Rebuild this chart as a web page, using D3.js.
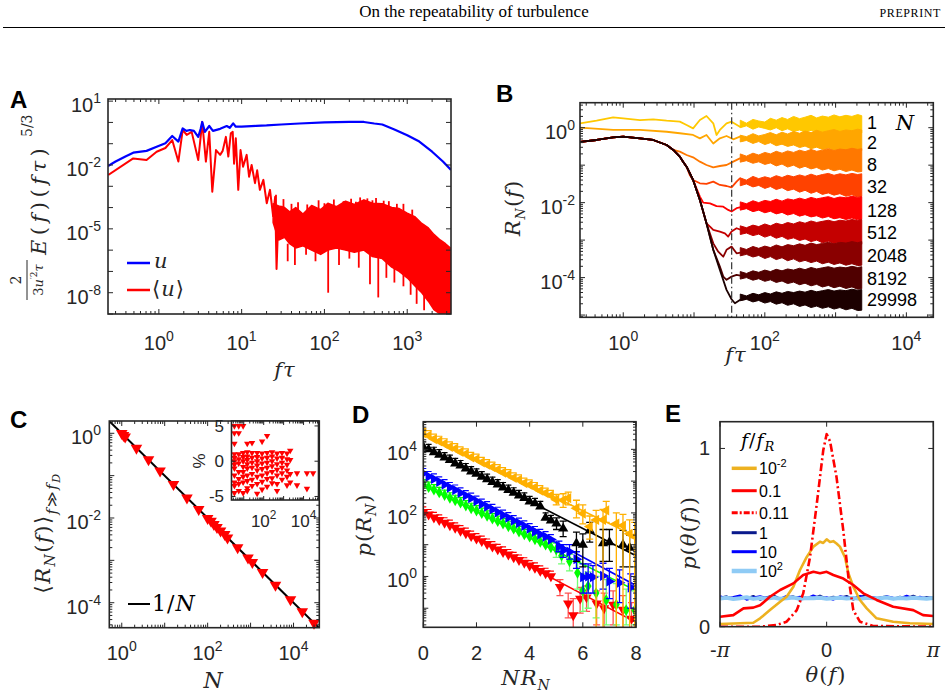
<!DOCTYPE html>
<html>
<head>
<meta charset="utf-8">
<script src="https://cdn.jsdelivr.net/npm/d3@7"></script>
<style>
  body { margin: 0; background: #fff; }
  svg { display: block; }
</style>
</head>
<body>
<div id="fig"></div>
<script>
// ---------------- data ----------------

// A: compensated spectrum of u and of the ensemble mean <u>
const aFreqU = [0.243,0.3,0.4,0.49,0.71,0.94,1.2,1.45,1.72,1.94,2.15,2.37,2.65,2.99,3.2,3.34,3.6,4.06,4.5,5.5,6.6,7.2,7.9,8.5,10,15,20,30,50,100,200,300,400,500,700,1000,1400,2000,2700,3380];
const aSpecU = [8.9e-3,1.45e-2,2.6e-2,3.8e-2,4.6e-2,7.2e-2,0.105,0.23,0.126,0.52,0.4,0.44,0.4,0.21,0.5,1.05,0.36,0.68,0.4,0.5,0.68,0.56,0.9,0.63,0.63,0.69,0.72,0.8,0.89,1.0,1.05,1.05,0.89,0.8,0.47,0.25,0.126,0.042,0.0145,5.9e-3];
const aFreqM = [0.245,0.49,0.71,0.94,1.2,1.45,1.72,1.94,2.17,2.49,2.99,3.34,3.7,4.06,4.42,4.9,5.5,5.9,6.45,6.9,7.4,7.8,8.1,8.5,9.1,9.7,10.4,11.5,12.3,13.2,14.5,15.4,16.6,18.3,20.1,22,24,25.4,26.4,27.9,30.4,33.4];
const aSpecM = [3.4e-3,0.0204,0.017,0.042,0.063,0.148,0.0145,0.44,0.26,0.36,0.017,1.05,0.0145,0.36,5.6e-4,0.05,0.03,0.046,0.21,0.025,0.31,0.36,0.0115,0.18,6.8e-4,0.05,8.3e-3,0.03,2.8e-3,0.01,1.4e-3,5.6e-3,6.8e-4,2e-3,1.6e-4,6.8e-4,4e-5,3.2e-4,1.3e-7,5.5e-5,1.1e-4,1.3e-5];
// noisy high-frequency part of <u>: envelope and isolated spikes
const aBandF  = [24,28,33,38,45,55,70,90,110,140,180,230,300,380,500,650,800,1000,1250,1500,1800,2100,2500,2900,3380];
const aBandHi = [1.5e-4,1.2e-4,1e-4,6.3e-5,1e-4,5e-5,1.26e-4,8e-5,1.6e-4,1.1e-4,2e-4,1.4e-4,2.3e-4,1.6e-4,1.5e-4,1e-4,9e-5,5.5e-5,3.6e-5,1.8e-5,1.1e-5,5.5e-6,3e-6,2e-6,1.2e-6];
const aBandLo = [2e-5,3e-6,4e-6,2e-6,1.26e-6,1.6e-6,1e-6,6.3e-7,1e-6,1.26e-6,1e-6,8e-7,1e-6,5e-7,4e-7,1.6e-7,1e-7,5e-8,2e-8,1e-8,4e-9,1.6e-9,1e-9,1e-9,1e-9];
const aDipF = [36,44,60,78,111,150,200,260,355,447,560,700,900,1100,1300,1600];
const aDipV = [3e-7,2e-7,6e-7,3e-7,1e-8,2e-7,4e-7,1.5e-7,2.5e-8,6e-9,5e-8,3e-8,2e-8,8e-9,3e-9,1.5e-9];
const aPeakF = [26,32,40,48,62,85,100,130,170,210,240,270,330,380,420,520,600,750,900,1150];
const aPeakV = [4e-4,2.5e-4,1.5e-4,1.8e-4,1.4e-4,2.2e-4,1.6e-4,2.4e-4,2e-4,2.6e-4,1.9e-4,3e-4,2.7e-4,2.2e-4,2.8e-4,2.1e-4,2e-4,1.5e-4,1.5e-4,8e-5];

// B: R_N(f) for several ensemble sizes N
const bLabels = ["1","2","8","32","128","512","2048","8192","29998"];
const bN1F = [0.245,0.42,0.72,1,1.72,2.65,4.1,6.3,7.85,9.7,12.1,15,18.7,20.8,23.2,28.8,33.9,44.5,55];
const bN1V = [1.31,1.54,1.89,1.77,1.6,1.67,1.54,1.45,1.18,0.96,1.6,2.05,1.31,0.64,0.87,1.31,1.45,1.06,1.2];
const bN2F = [0.245,0.72,1.72,4.1,6.3,9.7,12.1,15,18.7,23.2,28.8,35.8,44.5,55];
const bN2V = [1.0,0.87,0.87,0.78,0.71,0.64,0.52,0.64,0.38,0.52,0.6,0.49,0.575,0.5];
// common low-frequency part shared by N >= 8
const bStemF = [0.245,0.42,0.72,1,1.72,2.65,4.1,5.1,6.3,7.0,7.85,9.7,12.1,15,18.7,23.2,28.8];
const bStemV = [0.42,0.47,0.55,0.575,0.52,0.47,0.345,0.254,0.169,0.124,0.091,0.0402,0.0118,0.0028,5.5e-4,1.6e-4,4.7e-5];
const bStemLen = [8,11,12,14,14,15,16];
const bTailF = [
  [6.3,7.85,9.7,12.1,15,18.7,23.2,28.8,35.8,44.5,55],
  [8.7,9.7,12.1,15,18.7,23.2,28.8,33.9,39.9,44.5,55],
  [12.1,13.5,16.8,20.8,25.9,30.4,33.9,39.9,49.4],
  [16.8,18.7,23.2,27.3,30.4,33.9,39.9,49.4],
  [18.7,22,25.9,28.8,33.9,39.9,49.4],
  [23.2,25.9,28.8,33.9,39.9,49.4],
  [28.8,33.9,37.8,44.5,55]
];
const bTailV = [
  [0.229,0.187,0.162,0.124,0.101,0.0875,0.095,0.101,0.124,0.152,0.14],
  [0.0547,0.0402,0.0328,0.0315,0.0363,0.0296,0.0278,0.0256,0.0363,0.0446,0.035],
  [0.0145,0.01,0.0096,0.0081,0.0078,0.0064,0.0058,0.0071,0.0078],
  [0.0023,0.00187,0.00169,0.00152,0.00124,0.00169,0.00207,0.0018],
  [8.2e-4,4.9e-4,3.6e-4,5.5e-4,6.7e-4,4.45e-4,4.8e-4],
  [1.96e-4,1.06e-4,8.7e-5,1.06e-4,1.18e-4,1.1e-4],
  [4.7e-5,2.64e-5,2.07e-5,2.54e-5,2.7e-5]
];
// noisy high-frequency band of each curve, upper / lower envelope as log10 R_N
const bBandF = [45,55,68,82,100,120,145,175,210,255,310,370,450,540,650,790,950,1150,1400,1700,2050,2340];
const bBandHiLog = [
  [0.2,0.12,0.22,0.18,0.15,0.25,0.2,0.27,0.22,0.3,0.24,0.28,0.33,0.26,0.31,0.28,0.34,0.29,0.33,0.3,0.35,0.32],
  [-0.2,-0.24,-0.16,-0.22,-0.18,-0.13,-0.19,-0.12,-0.17,-0.1,-0.15,-0.09,-0.13,-0.07,-0.12,-0.08,-0.05,-0.1,-0.06,-0.08,-0.04,-0.06],
  [-0.7,-0.76,-0.68,-0.73,-0.66,-0.7,-0.63,-0.68,-0.62,-0.66,-0.6,-0.64,-0.58,-0.63,-0.6,-0.56,-0.61,-0.57,-0.59,-0.55,-0.58,-0.56],
  [-1.34,-1.4,-1.3,-1.36,-1.31,-1.35,-1.28,-1.33,-1.27,-1.31,-1.26,-1.3,-1.24,-1.29,-1.25,-1.22,-1.27,-1.23,-1.26,-1.22,-1.25,-1.23],
  [-1.98,-2.03,-1.95,-2.0,-1.94,-1.97,-1.91,-1.96,-1.9,-1.93,-1.88,-1.92,-1.86,-1.9,-1.87,-1.84,-1.89,-1.85,-1.87,-1.83,-1.86,-1.84],
  [-2.62,-2.67,-2.6,-2.64,-2.57,-2.62,-2.55,-2.59,-2.53,-2.57,-2.51,-2.55,-2.49,-2.53,-2.5,-2.47,-2.51,-2.47,-2.49,-2.45,-2.48,-2.45],
  [-3.2,-3.25,-3.17,-3.22,-3.16,-3.2,-3.13,-3.18,-3.12,-3.15,-3.1,-3.14,-3.08,-3.12,-3.09,-3.06,-3.1,-3.06,-3.08,-3.04,-3.07,-3.04],
  [-3.84,-3.89,-3.82,-3.86,-3.8,-3.84,-3.78,-3.82,-3.77,-3.8,-3.75,-3.79,-3.73,-3.77,-3.74,-3.71,-3.75,-3.72,-3.74,-3.7,-3.73,-3.71],
  [-4.44,-4.49,-4.42,-4.46,-4.4,-4.44,-4.38,-4.42,-4.37,-4.4,-4.36,-4.39,-4.34,-4.38,-4.35,-4.32,-4.36,-4.33,-4.35,-4.31,-4.34,-4.32]
];
const bBandLoLog = [
  [0.0,0.05,-0.04,0.02,-0.02,-0.06,0.0,-0.08,-0.03,-0.1,-0.06,-0.12,-0.07,-0.1,-0.14,-0.09,-0.15,-0.11,-0.16,-0.12,-0.15,-0.14],
  [-0.38,-0.34,-0.42,-0.37,-0.45,-0.4,-0.48,-0.44,-0.5,-0.46,-0.53,-0.49,-0.56,-0.52,-0.58,-0.54,-0.6,-0.57,-0.62,-0.58,-0.63,-0.61],
  [-0.92,-0.88,-0.95,-0.91,-0.98,-0.94,-1.02,-0.97,-1.05,-1.0,-1.08,-1.03,-1.1,-1.06,-1.13,-1.09,-1.15,-1.11,-1.17,-1.13,-1.18,-1.17],
  [-1.55,-1.5,-1.58,-1.54,-1.62,-1.57,-1.65,-1.6,-1.68,-1.64,-1.72,-1.67,-1.75,-1.7,-1.78,-1.74,-1.8,-1.76,-1.83,-1.79,-1.85,-1.83],
  [-2.2,-2.16,-2.24,-2.2,-2.27,-2.23,-2.3,-2.26,-2.33,-2.29,-2.36,-2.32,-2.38,-2.35,-2.41,-2.37,-2.43,-2.4,-2.45,-2.41,-2.46,-2.44],
  [-2.85,-2.81,-2.88,-2.84,-2.92,-2.87,-2.95,-2.9,-2.98,-2.94,-3.01,-2.97,-3.04,-3.0,-3.07,-3.03,-3.09,-3.05,-3.11,-3.07,-3.12,-3.11],
  [-3.42,-3.38,-3.45,-3.41,-3.49,-3.44,-3.52,-3.47,-3.55,-3.5,-3.58,-3.54,-3.6,-3.56,-3.63,-3.59,-3.65,-3.61,-3.67,-3.63,-3.68,-3.67],
  [-4.04,-4.0,-4.07,-4.03,-4.1,-4.06,-4.13,-4.09,-4.16,-4.12,-4.19,-4.15,-4.22,-4.18,-4.25,-4.21,-4.27,-4.23,-4.29,-4.25,-4.31,-4.3],
  [-4.62,-4.58,-4.65,-4.61,-4.68,-4.64,-4.71,-4.67,-4.74,-4.7,-4.77,-4.73,-4.8,-4.76,-4.82,-4.78,-4.84,-4.8,-4.86,-4.82,-4.88,-4.87]
];
const bDissF = 34;

// C: <R_N> vs N, and deviation from 1/N in percent (inset)
const cN = [1,1.1,1.2,2.2,4.2,7.8,16,33,62,100,120,140,165,200,250,290,500,870,1100,1900,3800,8500,16000,29998];
const cR = [1.0,0.9,0.82,0.45,0.24,0.13,0.062,0.03,0.016,0.0098,0.0085,0.0071,0.006,0.005,0.0041,0.0034,0.002,0.00115,9e-4,5.2e-4,2.6e-4,1.18e-4,6.2e-5,3.3e-5];
const cLineN = [0.51, 40000];
const cLineR = [1.95, 2.5e-5];
const insetN = [3.4,5.6,9.3,15,26,47,83,148,263,468,830,1480,2140,4700,14800,29998];
const insetPct = [
  [5,4,2.5,1,0.5,0,-0.5,-1,-2,-3,-3.5,-4.5],
  [5,4,1,0.3,-0.3,-1.5,-2.5,-3.2,-4.2],
  [5,1.2,0.6,0,-0.8,-1.5,-2.2,-3,-4.5],
  [2.5,1.3,0.7,0.2,-0.4,-1,-2,-2.8,-3.8,-4.2],
  [2.6,1.2,0.5,-0.2,-0.9,-1.8,-2.6,-3.5],
  [1.2,0.6,0,-0.6,-1.3,-2.2,-3.2,-4.6],
  [2.8,1.1,0.4,-0.3,-1.1,-2,-2.9,-4],
  [3.6,1.2,0.5,-0.2,-0.9,-1.7,-2.5,-3.6],
  [1.3,0.7,0,-0.7,-1.5,-2.4,-3.1],
  [1.1,0.4,-0.4,-1.2,-2,-3.2,-4.2],
  [1.2,0.5,-0.2,-0.9,-1.7,-2.6],
  [1.1,0.3,-0.5,-1.3,-2.2,-3.4],
  [1.5,0.2,-1.8,-3],
  [-1.7,-3.4],
  [-1.7,-3.9],
  [-1.7]
];

// D: p(R_N) vs N R_N for five frequencies (offset vertically)
const dX = [0,0.2,0.4,0.6,0.8,1,1.2,1.4,1.6,1.8,2,2.2,2.4,2.6,2.8,3,3.2,3.4,3.6,3.8,4,4.2,4.4,4.6,4.8];
const dOrange = [3.2e4,2.7e4,2.1e4,1.8e4,1.5e4,1.2e4,1.05e4,8.3e3,7.2e3,5.6e3,4.9e3,3.9e3,3.3e3,2.75e3,2.3e3,1.86e3,1.6e3,1.26e3,1.1e3,870,760,630,500,420,355];
const dBlack  = [1.2e4,1.0e4,8.1e3,6.8e3,5.5e3,4.6e3,3.6e3,3.1e3,2.5e3,2.0e3,1.7e3,1.38e3,1.15e3,930,780,630,520,430,355,295,230,200,160,70,58];
const dBlue   = [1.74e3,1.4e3,1.17e3,950,780,630,525,425,350,290,235,190,158,129,105,85,71,57,48,39,32,26,21,17.8,14.5];
const dGreen  = [780,645,540,440,365,300,250,210,170,140,118,98,81,66,55,46,38,32,26,21,17.8,14.8,12.3,10,8.3];
const dRed    = [107,89,72,60,49,41,34,27.5,23,18.6,15.5,12.9,10.5,8.7,7.1,5.9,4.9,4.0,3.3,2.7,2.2,1.86,1.5,1.26,1.02];
// tail points: [x, p, lower, upper]
const dOrangeTail = [[5.0,260,180,380],[5.26,250,150,400],[5.45,290,180,450],[5.76,140,70,250],[6.0,95,45,180],[6.26,37,15,80],[6.5,60,0.01,120],[6.76,60,0.01,130],[6.88,120,50,230],[7.26,46,0.01,100],[7.51,40,0.01,90],[7.76,22,0.01,60],[7.95,18,0.01,50]];
const dBlackTail  = [[5.01,46,30,70],[5.26,32,18,55],[5.76,11,3,25],[6.0,10,2,22],[6.26,28,12,50],[6.76,11,3,30],[7.0,12,3,30],[7.51,10,2,28],[7.76,8,2,20]];
const dBlueTail   = [[5.1,9,6,13],[5.26,6.6,4,10],[5.5,6,3.5,10],[5.76,3.5,1.8,6],[6.01,0.95,0.3,2.5],[6.2,1.0,0.3,2.5],[6.38,0.95,0.3,2.2],[6.76,1.05,0.4,2.6],[7.0,0.7,0.2,1.8],[7.38,0.63,0.15,1.6],[7.8,0.45,0.1,1.2]];
const dGreenTail  = [[5.0,7,4,11],[5.2,4.5,2.5,7.5],[5.5,3,1.5,5],[5.8,1.3,0.4,3],[6.0,0.36,0.08,1.2],[6.2,0.5,0.1,1.4],[6.5,0.3,0.05,1],[6.88,0.18,0.03,0.8],[7.26,0.13,0.03,0.6],[7.63,0.087,0.03,0.4],[7.95,0.087,0.03,0.35]];
const dRedTail    = [[5.14,0.47,0.25,0.8],[5.45,0.14,0.05,0.3],[5.64,0.06,0.02,0.2],[5.9,0.2,0.07,0.45],[6.14,0.22,0.08,0.5],[6.52,0.14,0.03,0.35],[6.8,0.1,0.02,0.3],[7.14,0.13,0.03,0.35],[7.51,0.09,0.02,0.25],[7.83,0.047,0.01,0.15]];
const dFitX = [0, 8];
const dFit = { orange: [3.2e4, 18], black: [1.2e4, 4.5], blue: [1.95e3, 0.52], green: [740, 0.36], red: [120, 0.036] };

// E: phase pdf for several f/f_R
const eLegend = ["10|-2", "0.1", "0.11", "1", "10", "10|2"];
const eGoldT = [-3.14,-2.16,-1.96,-1.67,-1.37,-1.18,-0.98,-0.785,-0.59,-0.39,-0.196,-0.1,0,0.098,0.196,0.29,0.39,0.54,0.64,0.785,0.98,1.18,1.47,1.96,2.45,3.14];
const eGoldV = [0.015,0.022,0.047,0.093,0.14,0.168,0.224,0.318,0.39,0.449,0.477,0.47,0.49,0.475,0.48,0.467,0.449,0.39,0.30,0.224,0.15,0.103,0.047,0.028,0.019,0.015];
const eRedT = [-3.14,-2.75,-2.45,-2.16,-1.96,-1.67,-1.37,-0.98,-0.69,-0.39,-0.196,0,0.196,0.49,0.785,1.08,1.47,1.96,2.55,2.84,3.14];
const eRedV = [0.056,0.065,0.103,0.107,0.12,0.168,0.206,0.243,0.29,0.308,0.30,0.308,0.29,0.27,0.234,0.187,0.15,0.112,0.093,0.065,0.06];
const eDashT = [-3.14,-1.96,-1.47,-1.18,-0.88,-0.69,-0.49,-0.29,-0.1,0,0.1,0.29,0.49,0.64,0.785,0.98,1.37,3.14];
const eDashV = [0,0,0.01,0.028,0.093,0.187,0.39,0.69,0.99,1.08,1.04,0.84,0.54,0.28,0.093,0.028,0.004,0];
const eFlatT = d3.range(33).map(i => -Math.PI + i * Math.PI / 16);
const eNavyV  = [0.162,0.17,0.155,0.168,0.158,0.172,0.152,0.165,0.175,0.157,0.163,0.17,0.15,0.166,0.16,0.174,0.156,0.168,0.161,0.172,0.153,0.167,0.176,0.158,0.164,0.17,0.155,0.168,0.16,0.173,0.157,0.166,0.16];
const eBlueV  = [0.17,0.158,0.166,0.175,0.152,0.163,0.17,0.16,0.168,0.155,0.172,0.162,0.167,0.158,0.175,0.16,0.165,0.152,0.17,0.163,0.158,0.172,0.16,0.166,0.155,0.17,0.162,0.158,0.173,0.16,0.167,0.157,0.165];
const eLightV = [0.158,0.162,0.155,0.16,0.165,0.156,0.161,0.158,0.163,0.157,0.16,0.164,0.156,0.161,0.159,0.162,0.157,0.16,0.163,0.158,0.161,0.156,0.162,0.159,0.16,0.164,0.157,0.161,0.158,0.162,0.16,0.157,0.161];

// ---------------- drawing ----------------
const AXC = "#262626";
const SANS = "'Liberation Sans', Arial, Helvetica, sans-serif";
const SERIF = "'DejaVu Serif', 'Liberation Serif', serif";
const HEAD = "'Liberation Serif', 'Times New Roman', serif";

const svg = d3.select("#fig").append("svg")
    .attr("width", 948).attr("height", 699)
    .style("font-family", SANS);

// page header
svg.append("text").attr("x", 474).attr("y", 17).attr("text-anchor", "middle")
    .attr("font-family", HEAD).attr("font-size", 17).text("On the repeatability of turbulence");
svg.append("text").attr("x", 941).attr("y", 17).attr("text-anchor", "end")
    .attr("font-family", HEAD).attr("font-size", 12).attr("letter-spacing", 0.6).text("PREPRINT");
svg.append("line").attr("x1", 3).attr("x2", 945).attr("y1", 27.5).attr("y2", 27.5)
    .attr("stroke", "#000").attr("stroke-width", 1.2);

function logTicks(sc) {
    const [a, b] = sc.domain();
    const major = [], minor = [];
    for (let e = Math.floor(Math.log10(a)); e <= Math.ceil(Math.log10(b)); e++) {
        for (let k = 1; k < 10; k++) {
            const v = k * Math.pow(10, e);
            if (v < a * 0.9999 || v > b * 1.0001) continue;
            (k === 1 ? major : minor).push(v);
        }
    }
    return { major, minor };
}

function clipGroup(id, x, y) {
    const [x0, x1] = x.range(), [yb, yt] = y.range();
    svg.append("clipPath").attr("id", id).append("rect")
        .attr("x", x0).attr("y", yt).attr("width", x1 - x0).attr("height", yb - yt);
    return svg.append("g").attr("clip-path", `url(#${id})`);
}

function axesBox(x, y, o) {
    const [x0, x1] = x.range(), [yb, yt] = y.range();
    const L = o.L || 5, l = o.l || 3;
    let d = "";
    (o.xMajor || []).forEach(v => { const p = x(v); d += `M${p},${yb}v${-L}M${p},${yt}v${L}`; });
    (o.xMinor || []).forEach(v => { const p = x(v); d += `M${p},${yb}v${-l}M${p},${yt}v${l}`; });
    (o.yMajor || []).forEach(v => { const p = y(v); d += `M${x0},${p}h${L}M${x1},${p}h${-L}`; });
    (o.yMinor || []).forEach(v => { const p = y(v); d += `M${x0},${p}h${l}M${x1},${p}h${-l}`; });
    svg.append("path").attr("d", d).attr("fill", "none").attr("stroke", AXC).attr("stroke-width", 1);
    svg.append("rect").attr("x", x0).attr("y", yt).attr("width", x1 - x0).attr("height", yb - yt)
        .attr("fill", "none").attr("stroke", AXC).attr("stroke-width", 1.6);
}

function powLabel(px, py, e, anchor, size) {
    size = size || 20;
    const t = svg.append("text").attr("x", px).attr("y", py).attr("text-anchor", anchor)
        .attr("font-size", size).attr("fill", AXC);
    t.append("tspan").text("10");
    t.append("tspan").attr("dy", -size * 0.45).attr("font-size", size * 0.7).text(e);
    return t;
}

function plainLabel(px, py, s, anchor, size) {
    return svg.append("text").attr("x", px).attr("y", py).attr("text-anchor", anchor)
        .attr("font-size", size || 20).attr("fill", AXC).text(s);
}

// parts: [text, italic?, dy, size]
function mathText(x, y, parts, o) {
    o = o || {};
    const t = svg.append("text").attr("x", x).attr("y", y)
        .attr("font-family", SERIF).attr("font-size", o.size || 21)
        .attr("fill", o.fill || AXC).attr("text-anchor", o.anchor || "middle");
    if (o.rotate) t.attr("transform", `rotate(-90,${x},${y})`);
    if (o.ls) t.attr("letter-spacing", o.ls);
    parts.forEach(p => {
        const s = t.append("tspan").text(p[0]);
        if (p[1]) s.attr("font-style", "italic");
        if (p[2]) s.attr("dy", p[2]);
        if (p[3]) s.attr("font-size", p[3]);
    });
    return t;
}

function panelLetter(x, y, s) {
    svg.append("text").attr("x", x).attr("y", y).attr("font-size", 24)
        .attr("font-weight", "bold").attr("fill", "#000").text(s);
}

const zip = (a, b) => a.map((v, i) => [v, b[i]]);

// ================= Panel A =================
const xA = d3.scaleLog().domain([0.243, 3380]).range([108, 451]);
const yA = d3.scaleLog().domain([1e-9, 12.6]).range([314, 99]);
const lineA = d3.line().x(d => xA(d[0])).y(d => yA(d[1]));
const gA = clipGroup("clipA", xA, yA);

gA.append("path")
    .datum(aBandF.map((f, i) => ({ f, hi: aBandHi[i], lo: aBandLo[i] })))
    .attr("d", d3.area().x(d => xA(d.f)).y0(d => yA(d.lo)).y1(d => yA(d.hi)))
    .attr("fill", "#FF0000").attr("stroke", "#FF0000").attr("stroke-width", 1.5)
    .attr("stroke-linejoin", "round");
gA.selectAll(".dip").data(zip(aDipF, aDipV)).join("line")
    .attr("x1", d => xA(d[0])).attr("x2", d => xA(d[0]))
    .attr("y1", yA(2e-6)).attr("y2", d => yA(d[1]))
    .attr("stroke", "#FF0000").attr("stroke-width", 1.8);
gA.selectAll(".peak").data(zip(aPeakF, aPeakV)).join("line")
    .attr("x1", d => xA(d[0])).attr("x2", d => xA(d[0]))
    .attr("y1", yA(1e-5)).attr("y2", d => yA(d[1]))
    .attr("stroke", "#FF0000").attr("stroke-width", 1.8);
gA.append("path").datum(zip(aFreqM, aSpecM)).attr("d", lineA)
    .attr("fill", "none").attr("stroke", "#FF0000").attr("stroke-width", 2).attr("stroke-linejoin", "round");
gA.append("path").datum(zip(aFreqU, aSpecU)).attr("d", lineA)
    .attr("fill", "none").attr("stroke", "#0000FF").attr("stroke-width", 2.2).attr("stroke-linejoin", "round");

const tAx = logTicks(xA), tAy = logTicks(yA);
axesBox(xA, yA, { xMajor: tAx.major, xMinor: tAx.minor, yMajor: tAy.major });
[["1", 10], ["-2", 1e-2], ["-5", 1e-5], ["-8", 1e-8]].forEach(d => powLabel(101, yA(d[1]) + 11, d[0], "end"));
[["0", 1], ["1", 10], ["2", 100], ["3", 1000]].forEach(d => powLabel(xA(d[1]), 350, d[0], "middle"));

// legend A
svg.append("line").attr("x1", 127).attr("x2", 150).attr("y1", 263).attr("y2", 263).attr("stroke", "#0000FF").attr("stroke-width", 2.5);
svg.append("line").attr("x1", 127).attr("x2", 150).attr("y1", 290).attr("y2", 290).attr("stroke", "#FF0000").attr("stroke-width", 2.5);
mathText(154, 268, [["u", 1]], { anchor: "start" });
mathText(152, 296, [["\u27E8", 0], ["u", 1], ["\u27E9", 0]], { anchor: "start", ls: 1 });

// y label A:  2/(3u'^2 tau) E(f)(f tau)^{5/3}
const gLab = svg.append("g").attr("transform", "translate(46,301) rotate(-90)")
    .attr("font-family", SERIF).attr("fill", AXC);
gLab.append("text").attr("x", 21).attr("y", -25).attr("text-anchor", "middle").attr("font-size", 14).text("2");
gLab.append("line").attr("x1", 1).attr("x2", 41).attr("y1", -19).attr("y2", -19).attr("stroke", AXC).attr("stroke-width", 1);
const den = gLab.append("text").attr("x", 21).attr("y", -3).attr("text-anchor", "middle").attr("font-size", 13);
den.append("tspan").text("3");
den.append("tspan").attr("font-style", "italic").text("u");
den.append("tspan").attr("font-size", 9).attr("dy", -6).text("\u20322");
den.append("tspan").attr("font-style", "italic").attr("dy", 6).text("\u03C4");
const num = gLab.append("text").attr("x", 46).attr("y", 0).attr("font-size", 21).attr("letter-spacing", 4.5);
num.append("tspan").attr("font-style", "italic").text("E");
num.append("tspan").text("(");
num.append("tspan").attr("font-style", "italic").text("f");
num.append("tspan").text(")(");
num.append("tspan").attr("font-style", "italic").text("f\u03C4");
num.append("tspan").text(")");
gLab.append("text").attr("x", 164).attr("y", -14).attr("font-size", 14).text("5/3");

mathText(285, 377, [["f", 1], ["\u03C4", 1]], { ls: 1 });
panelLetter(10, 108, "A");

// ================= Panel B =================
const xB = d3.scaleLog().domain([0.245, 24000]).range([580, 933.3]);
const yB = d3.scaleLog().domain([Math.pow(10, -5.06), Math.pow(10, 0.667)]).range([317.3, 102.7]);
const lineB = d3.line().x(d => xB(d[0])).y(d => yB(d[1]));
const areaB = d3.area().x(d => xB(d.f)).y0(d => yB(Math.pow(10, d.lo))).y1(d => yB(Math.pow(10, d.hi)));
const bColors = ["#FFC800", "#FFA600", "#FF7800", "#FF4200", "#FF0000", "#C40000", "#8A0000", "#500000", "#1C0000"];
const gB = clipGroup("clipB", xB, yB);

const bCurves = bLabels.map((lab, i) => {
    let pts;
    if (i === 0) pts = zip(bN1F, bN1V);
    else if (i === 1) pts = zip(bN2F, bN2V);
    else {
        const k = bStemLen[i - 2];
        pts = zip(bStemF.slice(0, k), bStemV.slice(0, k)).concat(zip(bTailF[i - 2], bTailV[i - 2]));
    }
    const band = bBandF.map((f, j) => ({ f, hi: bBandHiLog[i][j], lo: bBandLoLog[i][j] }));
    return { lab, pts, band, col: bColors[i] };
});
bCurves.forEach(c => {
    gB.append("path").datum(c.band).attr("d", areaB)
        .attr("fill", c.col).attr("stroke", c.col).attr("stroke-width", 1).attr("stroke-linejoin", "round");
    gB.append("path").datum(c.pts).attr("d", lineB)
        .attr("fill", "none").attr("stroke", c.col).attr("stroke-width", 1.8).attr("stroke-linejoin", "round");
});
gB.append("line").attr("x1", xB(bDissF)).attr("x2", xB(bDissF)).attr("y1", 102.7).attr("y2", 317.3)
    .attr("stroke", "#404040").attr("stroke-width", 1.3).attr("stroke-dasharray", "7,3,1.5,3");

const tBx = logTicks(xB), tBy = logTicks(yB);
axesBox(xB, yB, { xMajor: tBx.major, xMinor: tBx.minor, yMajor: tBy.major, yMinor: tBy.minor });
[["0", 1], ["-2", 1e-2], ["-4", 1e-4]].forEach(d => powLabel(575, yB(d[1]) + 11, d[0], "end"));
[["0", 1], ["2", 100], ["4", 1e4]].forEach(d => powLabel(xB(d[1]), 350, d[0], "middle"));
const bLabY = [129, 149, 171, 193, 217, 239, 262, 285, 306];
bCurves.forEach((c, i) => svg.append("text").attr("x", 867).attr("y", bLabY[i])
    .attr("font-size", 18).attr("fill", "#000").text(c.lab));
mathText(905, 130, [["N", 1]], { fill: "#000" });
mathText(520, 208, [["R", 1], ["N", 1, 5, 13], ["(", 0, -5], ["f", 1], [")", 0]], { rotate: true, ls: 1 });
mathText(736, 362, [["f", 1], ["\u03C4", 1]], { ls: 1 });
panelLetter(496, 102, "B");

// ================= Panel C =================
const xC = d3.scaleLog().domain([Math.pow(10, -0.29), Math.pow(10, 4.6)]).range([109.3, 319.3]);
const yC = d3.scaleLog().domain([Math.pow(10, -4.59), Math.pow(10, 0.29)]).range([627.7, 421]);
const gC = clipGroup("clipC", xC, yC);
gC.append("path").datum(zip(cLineN, cLineR))
    .attr("d", d3.line().x(d => xC(d[0])).y(d => yC(d[1])))
    .attr("stroke", "#000").attr("stroke-width", 2);
const triDown = d3.symbol().type(d3.symbolTriangle);
svg.append("g").selectAll("path").data(zip(cN, cR)).join("path")
    .attr("d", triDown.size(58))
    .attr("transform", d => `translate(${xC(d[0])},${yC(d[1])}) rotate(180)`)
    .attr("fill", "#FF0000");
const tCx = logTicks(xC), tCy = logTicks(yC);
axesBox(xC, yC, { xMajor: tCx.major, xMinor: tCx.minor, yMajor: tCy.major, yMinor: tCy.minor });
[["0", 1], ["-2", 1e-2], ["-4", 1e-4]].forEach(d => powLabel(101, yC(d[1]) + 11, d[0], "end"));
[["0", 1], ["2", 100], ["4", 1e4]].forEach(d => powLabel(xC(d[1]), 660, d[0], "middle"));
svg.append("line").attr("x1", 128).attr("x2", 150).attr("y1", 604).attr("y2", 604).attr("stroke", "#000").attr("stroke-width", 2);
mathText(152, 611, [["1/", 0], ["N", 1]], { anchor: "start", fill: "#000", size: 22, ls: 1 });
mathText(50, 533, [["\u27E8", 0], ["R", 1], ["N", 1, 5, 14], ["(", 0, -5], ["f", 1], [")\u27E9", 0],
    ["f", 1, 7, 15], ["\u226B", 0, 0, 15], ["f", 1, 0, 15], ["D", 1, 3, 11]], { rotate: true, ls: 1.5 });
mathText(213, 688, [["N", 1]], { size: 22 });
panelLetter(10, 428, "C");

// inset
const xCi = d3.scaleLog().domain([Math.pow(10, 0.385), Math.pow(10, 4.75)]).range([231.5, 318.5]);
const yCi = d3.scaleLinear().domain([-5.5, 5.7]).range([500, 421]);
svg.append("rect").attr("x", 231.5).attr("y", 421).attr("width", 87).attr("height", 79).attr("fill", "#fff");
const insetPts = [];
insetN.forEach((n, i) => insetPct[i].forEach(p => insetPts.push([n, p])));
svg.append("g").selectAll("path").data(insetPts).join("path")
    .attr("d", triDown.size(18))
    .attr("transform", d => `translate(${xCi(d[0])},${yCi(d[1])}) rotate(180)`)
    .attr("fill", "#FF0000");
const tCix = logTicks(xCi);
axesBox(xCi, yCi, { xMajor: tCix.major, xMinor: tCix.minor, yMajor: [-5, 0, 5], L: 4, l: 2.5 });
[["5", 5], ["0", 0], ["-5", -5]].forEach(d => plainLabel(224, yCi(d[1]) + 6, d[0], "end", 17));
[["2", 100], ["4", 1e4]].forEach(d => powLabel(xCi(d[1]), 527, d[0], "middle", 17));
svg.append("text").attr("x", 205).attr("y", 461).attr("text-anchor", "middle")
    .attr("transform", "rotate(-90,205,461)").attr("font-size", 17).attr("fill", AXC).text("%");

// ================= Panel D =================
const xD = d3.scaleLinear().domain([0, 8]).range([423.3, 636]);
const yD = d3.scaleLog().domain([Math.pow(10, -1.6), Math.pow(10, 4.87)]).range([627.3, 421.7]);
const gD = clipGroup("clipD", xD, yD);
const dSeries = [
    { main: dRed, tail: dRedTail, fit: dFit.red, col: "#FF0000", bar: "#FF5050", sym: d3.symbolTriangle, rot: 180 },
    { main: dGreen, tail: dGreenTail, fit: dFit.green, col: "#00FF00", bar: "#70FF70", sym: d3.symbolDiamond, rot: 0 },
    { main: dBlue, tail: dBlueTail, fit: dFit.blue, col: "#0000FF", bar: "#0000FF", sym: d3.symbolTriangle, rot: 90 },
    { main: dBlack, tail: dBlackTail, fit: dFit.black, col: "#000000", bar: "#000000", sym: d3.symbolTriangle, rot: 0 },
    { main: dOrange, tail: dOrangeTail, fit: dFit.orange, col: "#FFB000", bar: "#FFB000", sym: d3.symbolTriangle, rot: -90 }
];
dSeries.forEach(s => {
    const g = gD.append("g");
    s.tail.forEach(t => {
        const px = xD(t[0]);
        g.append("path")
            .attr("d", `M${px},${yD(t[2])}V${yD(t[3])}M${px - 3.5},${yD(t[2])}h7M${px - 3.5},${yD(t[3])}h7`)
            .attr("stroke", s.bar).attr("stroke-width", 1.3).attr("fill", "none");
    });
    g.append("path").datum(zip(dFitX, s.fit))
        .attr("d", d3.line().x(d => xD(d[0])).y(d => yD(d[1])))
        .attr("stroke", s.col).attr("stroke-width", 1.6);
    // small caps above each main marker (error bars)
    const pts = zip(dX, s.main);
    g.selectAll(".cap").data(pts).join("path")
        .attr("d", d => `M${xD(d[0]) - 3},${yD(d[1]) - 5}h6`)
        .attr("stroke", s.col).attr("stroke-width", 1.2);
    g.selectAll(".m").data(pts.concat(s.tail.map(t => [t[0], t[1]]))).join("path")
        .attr("d", d3.symbol().type(s.sym).size(s.sym === d3.symbolDiamond ? 40 : 46))
        .attr("transform", d => `translate(${xD(d[0])},${yD(d[1])}) rotate(${s.rot})`)
        .attr("fill", s.col);
});
const tDy = logTicks(yD);
axesBox(xD, yD, { xMajor: [0, 2, 4, 6, 8], yMajor: tDy.major, yMinor: tDy.minor });
[["4", 1e4], ["2", 100], ["0", 1]].forEach(d => powLabel(417, yD(d[1]) + 11, d[0], "end"));
[0, 2, 4, 6, 8].forEach(v => plainLabel(xD(v), 660, String(v), "middle"));
mathText(371, 525, [["p", 1], ["(", 0], ["R", 1], ["N", 1, 5, 14], [")", 0, -5]], { rotate: true, ls: 1 });
mathText(526, 685, [["N", 1], ["R", 1], ["N", 1, 5, 14]], { ls: 1 });
panelLetter(352, 423, "D");

// ================= Panel E =================
const xE = d3.scaleLinear().domain([-Math.PI, Math.PI]).range([720, 933.3]);
const yE = d3.scaleLinear().domain([0, 1.15]).range([626.7, 421.7]);
const lineE = d3.line().x(d => xE(d[0])).y(d => yE(d[1]));
const gE = clipGroup("clipE", xE, yE);
const eStyles = [
    { pts: zip(eFlatT, eNavyV), col: "#0A1A8C", w: 2.2 },
    { pts: zip(eFlatT, eBlueV), col: "#0000FF", w: 2.2 },
    { pts: zip(eFlatT, eLightV), col: "#8FCBF5", w: 4 },
    { pts: zip(eGoldT, eGoldV), col: "#EDB120", w: 2.6 },
    { pts: zip(eRedT, eRedV), col: "#FF0000", w: 2.6 },
    { pts: zip(eDashT, eDashV), col: "#FF0000", w: 2.6, dash: "8,3,2,3" }
];
eStyles.forEach(s => {
    gE.append("path").datum(s.pts).attr("d", lineE).attr("fill", "none")
        .attr("stroke", s.col).attr("stroke-width", s.w).attr("stroke-linejoin", "round")
        .attr("stroke-dasharray", s.dash || null);
});
axesBox(xE, yE, { xMajor: [-Math.PI, 0, Math.PI], yMajor: [0, 1] });
plainLabel(710, yE(0) + 7, "0", "end");
plainLabel(710, yE(1) + 7, "1", "end");
const tm = svg.append("text").attr("x", xE(-Math.PI)).attr("y", 657).attr("text-anchor", "middle").attr("font-size", 20).attr("fill", AXC);
tm.append("tspan").text("-");
tm.append("tspan").attr("font-family", SERIF).attr("font-style", "italic").text("\u03C0");
plainLabel(xE(0), 657, "0", "middle");
mathText(xE(Math.PI), 657, [["\u03C0", 1]], { size: 20 });
mathText(696, 533, [["p", 1], ["(", 0], ["\u03B8", 1], ["(", 0], ["f", 1], ["))", 0]], { rotate: true, ls: 1 });
mathText(826, 682, [["\u03B8", 1], ["(", 0], ["f", 1], [")", 0]], { ls: 1 });
panelLetter(665, 422, "E");

// legend E
mathText(741, 447, [["f", 1], ["/", 0], ["f", 1], ["R", 1, 4, 13]], { anchor: "start", size: 19, fill: "#000", ls: 1 });
const eLegCol = ["#EDB120", "#FF0000", "#FF0000", "#0A1A8C", "#0000FF", "#8FCBF5"];
const eLegW = [3.5, 3, 3, 3, 3, 4.5];
const eLegY = [468.3, 490.7, 512.7, 532.7, 551.7, 571];
eLegend.forEach((lab, i) => {
    svg.append("line").attr("x1", 731.7).attr("x2", 756.7).attr("y1", eLegY[i]).attr("y2", eLegY[i])
        .attr("stroke", eLegCol[i]).attr("stroke-width", eLegW[i])
        .attr("stroke-dasharray", i === 2 ? "6,2,2,2" : null);
    const t = svg.append("text").attr("x", 759).attr("y", eLegY[i] + 6).attr("font-size", 16).attr("fill", "#000");
    const parts = lab.split("|");
    t.append("tspan").text(parts[0]);
    if (parts[1]) t.append("tspan").attr("dy", -7).attr("font-size", 11).text(parts[1]);
});
</script>
</body>
</html>
